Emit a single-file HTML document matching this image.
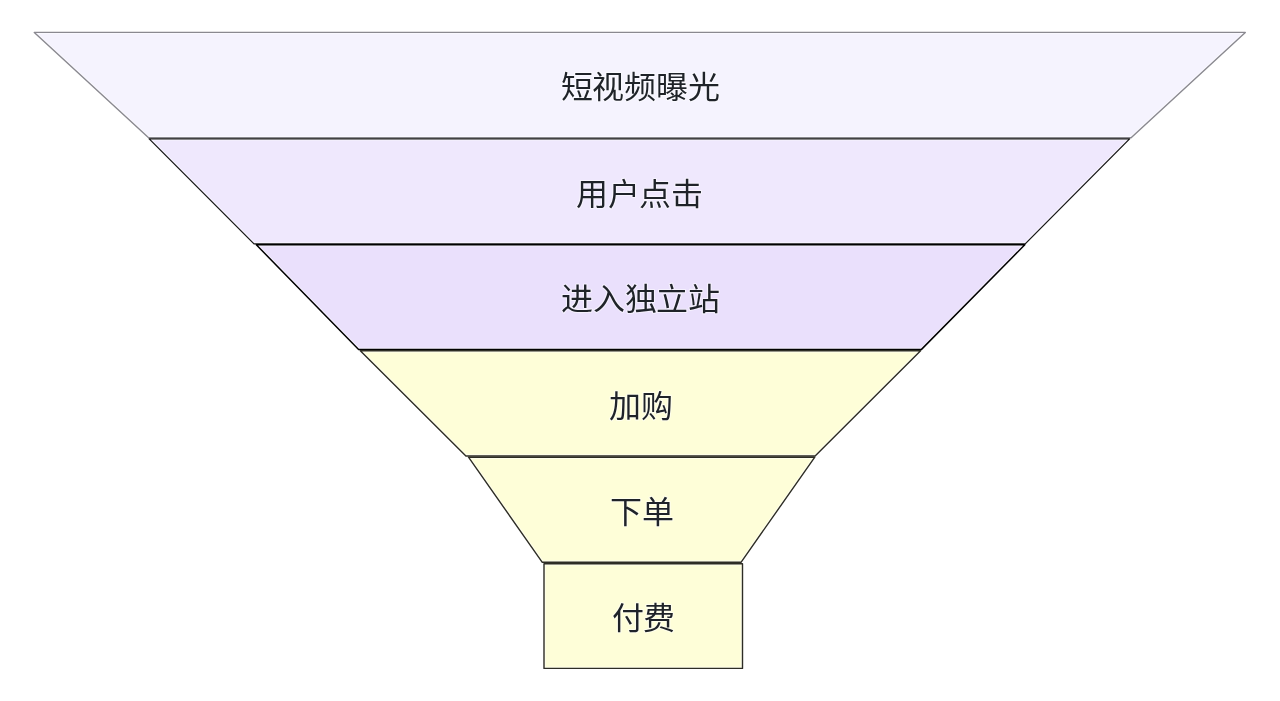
<!DOCTYPE html>
<html lang="zh-CN">
<head>
<meta charset="utf-8">
<style>
html,body{margin:0;padding:0;background:#ffffff;width:1280px;height:701px;overflow:hidden;}
svg{display:block;position:absolute;left:0;top:0;}
.t{opacity:0.999;will-change:transform;}
text{font-family:"Liberation Sans",sans-serif;font-size:32px;fill:#1f2329;stroke:#ffffff;stroke-opacity:0.55;stroke-width:2.2px;paint-order:stroke;stroke-linejoin:round;}
</style>
</head>
<body>
<svg width="1280" height="701" viewBox="0 0 1280 701">
  <g stroke="none">
    <polygon points="34.3,32.4 1245.3,32.4 1131.1,137.7 148.6,137.7" fill="#f5f3fe"/>
    <polygon points="149.2,138.9 1129.6,138.9 1025.2,243.9 254,243.9" fill="#efe8fd"/>
    <polygon points="256.3,244.8 1024.8,244.8 921.5,349.4 358.6,349.4" fill="#eae0fc"/>
    <polygon points="360.3,350.8 920.6,350.8 815.1,456 465.9,456" fill="#fefed8"/>
    <polygon points="468.5,457.2 814.8,457.2 741,562.3 542.3,562.3" fill="#fefed8"/>
    <polygon points="544,563.7 742.5,563.7 742.5,668.4 544,668.4" fill="#fefed8"/>
  </g>
  <g fill="none" stroke="#ffffff" stroke-opacity="0.5" stroke-width="3.4" stroke-linejoin="round">
    <polygon points="34.3,32.4 1245.3,32.4 1131.1,137.7 148.6,137.7"/>
    <polygon points="149.2,138.9 1129.6,138.9 1025.2,243.9 254,243.9"/>
    <polygon points="256.3,244.8 1024.8,244.8 921.5,349.4 358.6,349.4"/>
    <polygon points="360.3,350.8 920.6,350.8 815.1,456 465.9,456"/>
    <polygon points="468.5,457.2 814.8,457.2 741,562.3 542.3,562.3"/>
    <polygon points="544,563.7 742.5,563.7 742.5,668.4 544,668.4"/>
  </g>
  <g fill="none" stroke-linejoin="round">
    <polygon points="34.3,32.4 1245.3,32.4 1131.1,137.7 148.6,137.7" stroke="#8a8990" stroke-width="1.4"/>
    <polygon points="149.2,138.9 1129.6,138.9 1025.2,243.9 254,243.9" stroke="#161616" stroke-width="1.3"/>
    <polygon points="256.3,244.8 1024.8,244.8 921.5,349.4 358.6,349.4" stroke="#000000" stroke-width="1.5"/>
    <polygon points="360.3,350.8 920.6,350.8 815.1,456 465.9,456" stroke="#2e2d25" stroke-width="1.4"/>
    <polygon points="468.5,457.2 814.8,457.2 741,562.3 542.3,562.3" stroke="#2e2d25" stroke-width="1.4"/>
    <polygon points="544,563.7 742.5,563.7 742.5,668.4 544,668.4" stroke="#2e2d25" stroke-width="1.4"/>
  </g>
  <g text-anchor="middle" class="t">
    <text transform="translate(640,98.3) scale(1,0.95)" x="0" y="0">短视频曝光</text>
    <text transform="translate(639.3,204.6) scale(1,0.95)" x="0" y="0">用户点击</text>
    <text transform="translate(640.5,310.4) scale(1,0.95)" x="0" y="0">进入独立站</text>
    <text transform="translate(640.7,416.7) scale(1,0.95)" x="0" y="0">加购</text>
    <text transform="translate(641.5,523.3) scale(1,0.95)" x="0" y="0">下单</text>
    <text transform="translate(643.3,629.3) scale(1,0.95)" x="0" y="0">付费</text>
  </g>
</svg>
</body>
</html>
